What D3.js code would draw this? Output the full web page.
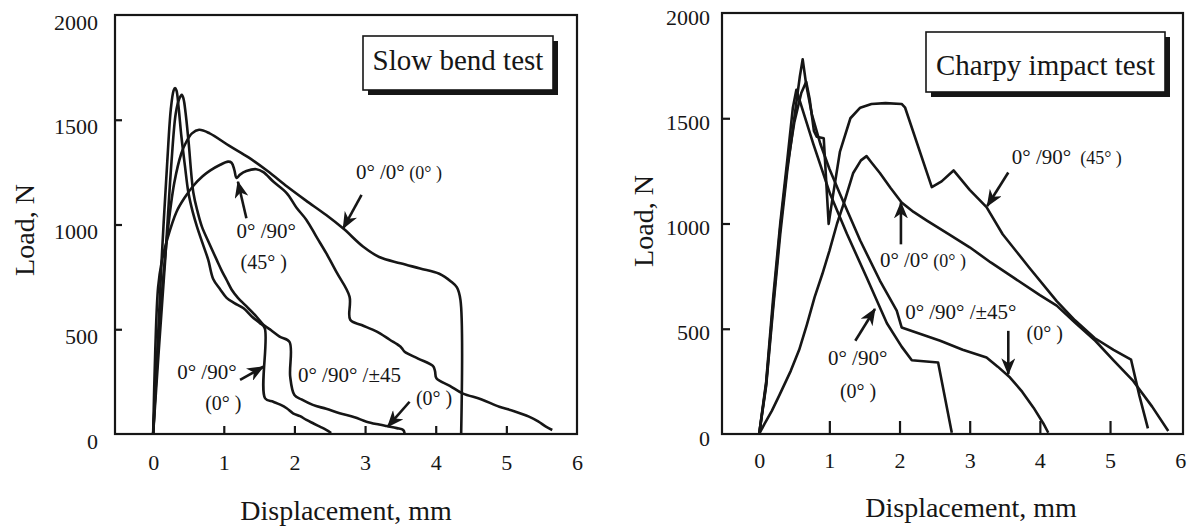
<!DOCTYPE html>
<html>
<head>
<meta charset="utf-8">
<script src="https://cdn.jsdelivr.net/npm/d3@7"></script>
<style>
  body { margin: 0; background: #fff; }
  svg text { font-family: "Liberation Serif", "Times New Roman", serif; fill: #161616; }
</style>
</head>
<body>
<div id="canvas"></div>
<script>
// tick values
const xTickLabels = [0, 1, 2, 3, 4, 5, 6];
const xInnerTicks = [1, 2, 3, 4, 5];
const yTickLabels = [0, 500, 1000, 1500, 2000];
const yInnerTicks = [500, 1000, 1500];

// slow bend test  [displacement mm, load N]
const slow00 = [[0,0],[0.05,300],[0.12,650],[0.2,950],[0.3,1200],[0.4,1340],[0.47,1395],[0.55,1435],[0.65,1452],
  [0.8,1435],[1.08,1375],[1.35,1320],[1.62,1255],[1.9,1180],[2.16,1115],[2.45,1045],[2.7,978],[2.97,895],
  [3.2,845],[3.5,815],[3.78,790],[4.05,765],[4.22,727],[4.3,700],[4.35,640],[4.36,0]];
const slow9045 = [[0,0],[0.03,400],[0.07,700],[0.12,820],[0.2,930],[0.33,1060],[0.45,1130],[0.57,1185],[0.7,1230],
  [0.81,1258],[0.95,1285],[1.06,1300],[1.11,1295],[1.15,1260],[1.18,1222],[1.23,1238],[1.32,1255],[1.46,1264],
  [1.56,1250],[1.7,1205],[1.89,1150],[2.03,1080],[2.17,1022],[2.31,942],[2.45,863],[2.6,770],[2.78,656],
  [2.79,545],[2.95,520],[3.16,490],[3.35,450],[3.49,420],[3.52,410],[3.56,393],[3.75,360],[3.96,325],
  [3.99,300],[4.01,266],[4.2,230],[4.38,194],[4.65,165],[4.9,130],[5.1,110],[5.32,83],[5.45,60],[5.56,35],[5.65,19]];
const slow90 = [[0,0],[0.06,400],[0.12,830],[0.2,1300],[0.25,1550],[0.29,1640],[0.31,1651],[0.33,1640],[0.36,1560],
  [0.4,1420],[0.45,1280],[0.5,1150],[0.56,1060],[0.62,990],[0.7,910],[0.78,831],[0.85,740],[0.95,690],
  [1.04,650],[1.15,625],[1.28,600],[1.4,560],[1.51,530],[1.58,505],[1.585,170],[1.7,154],[1.8,140],
  [1.89,123],[1.98,99],[2.08,85],[2.17,67],[2.27,50],[2.36,35],[2.45,20],[2.52,5]];
const slow90pm45 = [[0,0],[0.08,400],[0.17,830],[0.26,1300],[0.32,1530],[0.37,1600],[0.405,1619],[0.43,1600],
  [0.46,1530],[0.5,1400],[0.57,1150],[0.63,1060],[0.69,990],[0.78,920],[0.9,831],[0.97,780],[1.04,735],
  [1.11,690],[1.2,650],[1.3,616],[1.45,565],[1.56,522],[1.67,495],[1.79,465],[1.93,440],[1.94,274],
  [2.0,186],[2.1,165],[2.26,139],[2.45,120],[2.64,99],[2.85,80],[3.02,59],[3.2,45],[3.3,38],[3.45,28],[3.54,19],[3.56,3]];

// charpy impact test
const charpy00 = [[0,0],[0.07,45],[0.18,110],[0.29,186],[0.45,300],[0.57,400],[0.68,520],[0.79,650],[0.9,760],
  [1.0,869],[1.11,1000],[1.22,1110],[1.34,1240],[1.45,1300],[1.53,1320],[1.6,1290],[1.72,1240],[1.87,1170],
  [2.03,1100],[2.2,1055],[2.39,1014],[2.7,950],[3.0,887],[3.3,815],[3.62,744],[4.0,660],[4.24,610],[4.5,530],
  [4.79,443],[5.05,350],[5.33,252],[5.6,130],[5.83,14]];
const charpy9045 = [[0,0],[0.1,240],[0.2,620],[0.3,980],[0.4,1270],[0.5,1480],[0.6,1620],[0.67,1673],[0.72,1590],
  [0.78,1440],[0.82,1412],[0.92,1405],[0.99,998],[1.05,1130],[1.15,1340],[1.3,1500],[1.44,1550],[1.6,1568],
  [1.8,1572],[2.03,1568],[2.08,1550],[2.46,1173],[2.6,1200],[2.77,1252],[3.0,1160],[3.24,1078],[3.47,949],
  [3.85,790],[4.24,631],[4.5,540],[4.78,456],[5.05,400],[5.3,353],[5.42,180],[5.54,27]];
const charpy90 = [[0,0],[0.1,250],[0.2,650],[0.3,1000],[0.4,1300],[0.48,1550],[0.53,1635],[0.6,1560],[0.77,1379],
  [1.01,1141],[1.25,951],[1.53,745],[1.82,526],[2.03,415],[2.175,350],[2.55,340],[2.745,6]];
const charpy90pm45 = [[0,0],[0.1,230],[0.2,600],[0.3,950],[0.4,1250],[0.5,1500],[0.58,1700],[0.62,1780],[0.67,1660],
  [0.75,1520],[0.87,1380],[1.0,1260],[1.15,1141],[1.44,919],[1.72,729],[1.96,586],[2.03,506],[2.3,475],
  [2.58,443],[2.9,400],[3.24,363],[3.4,320],[3.575,268],[3.75,200],[3.91,125],[4.05,50],[4.12,6]];

const w = 1194, h = 528;

const panels = [
  {
    title: "Slow bend test",
    box: {left: 115, right: 577, top: 15, bottom: 434},
    xDomain: [-0.54, 6],
    xTickLen: 8, yTickLen: 7,
    xLabelPad: 20, yLabelRight: 98, yLabelDy: 14,
    titleBox: {x: 363, y: 36, w: 190, h: 54, base: 70},
    yTitle: {x: 34, y: 230},
    xTitle: {x: 346, y: 520},
    curve: d3.curveCatmullRom.alpha(0.5),
    series: [slow00, slow9045, slow90, slow90pm45],
    notes: [
      {at: [2.87, 1217], lines: [[["0° /0°", 21], [" (0° )", 18]]]},
      {at: [1.18, 937], lines: [[["0° /90°", 21]], [["(45° )", 20]]], lead: 31, indent: [0, 4]},
      {at: [0.34, 262], lines: [[["0° /90°", 21]], [["(0° )", 20]]], lead: 31, indent: [0, 28]},
      {at: [2.05, 248], lines: [[["0° /90° /±45", 21]]]},
      {at: [3.72, 138], lines: [[["(0° )", 20]]]}
    ],
    arrows: [
      {from: [2.95, 1141], to: [2.69, 982]},
      {from: [1.32, 1030], to: [1.2, 1204]},
      {from: [1.23, 258], to: [1.56, 321]},
      {from: [3.63, 154], to: [3.32, 35]}
    ]
  },
  {
    title: "Charpy impact test",
    box: {left: 722, right: 1183, top: 13, bottom: 434},
    xDomain: [-0.53, 6.04],
    xTickLen: 13, yTickLen: 8,
    xLabelPad: 18, yLabelRight: 710, yLabelDy: 11,
    titleBox: {x: 926, y: 32, w: 239, h: 60, base: 75},
    yTitle: {x: 653, y: 221},
    xTitle: {x: 971, y: 517},
    curve: d3.curveLinear,
    series: [charpy00, charpy9045, charpy90, charpy90pm45],
    notes: [
      {at: [3.6, 1281], lines: [[["0° /90°", 21], ["  (45° )", 18]]]},
      {at: [1.72, 795], lines: [[["0° /0°", 21], [" (0° )", 18]]]},
      {at: [2.08, 548], lines: [[["0° /90° /±45°", 21]]]},
      {at: [3.81, 448], lines: [[["(0° )", 20]]]},
      {at: [0.98, 329], lines: [[["0° /90°", 21]], [["(0° )", 20]]], lead: 33, indent: [0, 12]}
    ],
    arrows: [
      {from: [3.55, 1242], to: [3.25, 1083]},
      {from: [2.02, 901], to: [2.02, 1100]},
      {from: [3.55, 490], to: [3.55, 284]},
      {from: [1.37, 443], to: [1.65, 594]}
    ]
  }
];

const svg = d3.select("#canvas").append("svg")
  .attr("width", w).attr("height", h)
  .style("display", "block");

svg.append("defs").append("marker")
  .attr("id", "head")
  .attr("viewBox", "0 0 17 14")
  .attr("refX", 16).attr("refY", 7)
  .attr("markerWidth", 17).attr("markerHeight", 14)
  .attr("markerUnits", "userSpaceOnUse")
  .attr("orient", "auto")
  .append("path")
  .attr("d", "M0,0 L17,7 L0,14 L5,7 Z")
  .attr("fill", "#161616");

function drawPanel(p){
  const g = svg.append("g");
  const x = d3.scaleLinear().domain(p.xDomain).range([p.box.left, p.box.right]);
  const y = d3.scaleLinear().domain([0, 2000]).range([p.box.bottom, p.box.top]);

  // frame
  g.append("rect")
    .attr("x", p.box.left).attr("y", p.box.top)
    .attr("width", p.box.right - p.box.left)
    .attr("height", p.box.bottom - p.box.top)
    .attr("fill", "none").attr("stroke", "#161616").attr("stroke-width", 2.2);

  // inward ticks
  const xt = g.append("g").attr("transform", "translate(0," + p.box.bottom + ")")
    .call(d3.axisBottom(x).tickValues(xInnerTicks).tickSize(-p.xTickLen).tickFormat(""));
  const yt = g.append("g").attr("transform", "translate(" + p.box.left + ",0)")
    .call(d3.axisLeft(y).tickValues(yInnerTicks).tickSize(-p.yTickLen).tickFormat(""));
  [xt, yt].forEach(a => {
    a.select(".domain").remove();
    a.selectAll("line").attr("stroke", "#161616").attr("stroke-width", 2.2);
  });

  // tick labels
  const xl = g.append("g").attr("transform", "translate(0," + p.box.bottom + ")")
    .call(d3.axisBottom(x).tickValues(xTickLabels).tickSize(0).tickPadding(p.xLabelPad).tickFormat(d3.format("d")));
  const yl = g.append("g").attr("transform", "translate(" + p.yLabelRight + ",0)")
    .call(d3.axisLeft(y).tickValues(yTickLabels).tickSize(0).tickPadding(0).tickFormat(d3.format("d")));
  yl.selectAll("text").attr("dy", p.yLabelDy);
  [xl, yl].forEach(a => {
    a.select(".domain").remove();
    a.attr("font-family", null).attr("font-size", null);
    a.selectAll("text")
      .style("font-family", "'Liberation Serif', 'Times New Roman', serif")
      .style("font-size", "22px");
  });

  // curves
  const line = d3.line().x(d => x(d[0])).y(d => y(d[1])).curve(p.curve);
  g.selectAll("path.curve").data(p.series).join("path")
    .attr("class", "curve")
    .attr("d", line)
    .attr("fill", "none")
    .attr("stroke", "#161616")
    .attr("stroke-width", 2.6)
    .attr("stroke-linejoin", "round");

  // arrows
  g.selectAll("line.arrow").data(p.arrows).join("line")
    .attr("class", "arrow")
    .attr("x1", d => x(d.from[0])).attr("y1", d => y(d.from[1]))
    .attr("x2", d => x(d.to[0])).attr("y2", d => y(d.to[1]))
    .attr("stroke", "#161616").attr("stroke-width", 2.6)
    .attr("marker-end", "url(#head)");

  // annotations
  p.notes.forEach(n => {
    n.lines.forEach((parts, i) => {
      const t = g.append("text")
        .attr("x", x(n.at[0]) + (n.indent ? n.indent[i] : 0))
        .attr("y", y(n.at[1]) + i * (n.lead || 0))
        .attr("xml:space", "preserve");
      parts.forEach(pt => t.append("tspan").text(pt[0]).style("font-size", pt[1] + "px"));
    });
  });

  // title box with drop shadow
  const tb = p.titleBox;
  g.append("rect").attr("x", tb.x + 5).attr("y", tb.y + 5).attr("width", tb.w).attr("height", tb.h)
    .attr("fill", "#161616");
  g.append("rect").attr("x", tb.x).attr("y", tb.y).attr("width", tb.w).attr("height", tb.h)
    .attr("fill", "#fff").attr("stroke", "#161616").attr("stroke-width", 1.6);
  g.append("text").attr("x", tb.x + tb.w / 2).attr("y", tb.base)
    .attr("text-anchor", "middle").style("font-size", "29px").text(p.title);

  // axis titles
  g.append("text")
    .attr("transform", "translate(" + p.yTitle.x + "," + p.yTitle.y + ") rotate(-90)")
    .attr("text-anchor", "middle").style("font-size", "28px").text("Load, N");
  g.append("text")
    .attr("x", p.xTitle.x).attr("y", p.xTitle.y)
    .attr("text-anchor", "middle").style("font-size", "28px").text("Displacement, mm");
}

panels.forEach(drawPanel);
</script>
</body>
</html>
